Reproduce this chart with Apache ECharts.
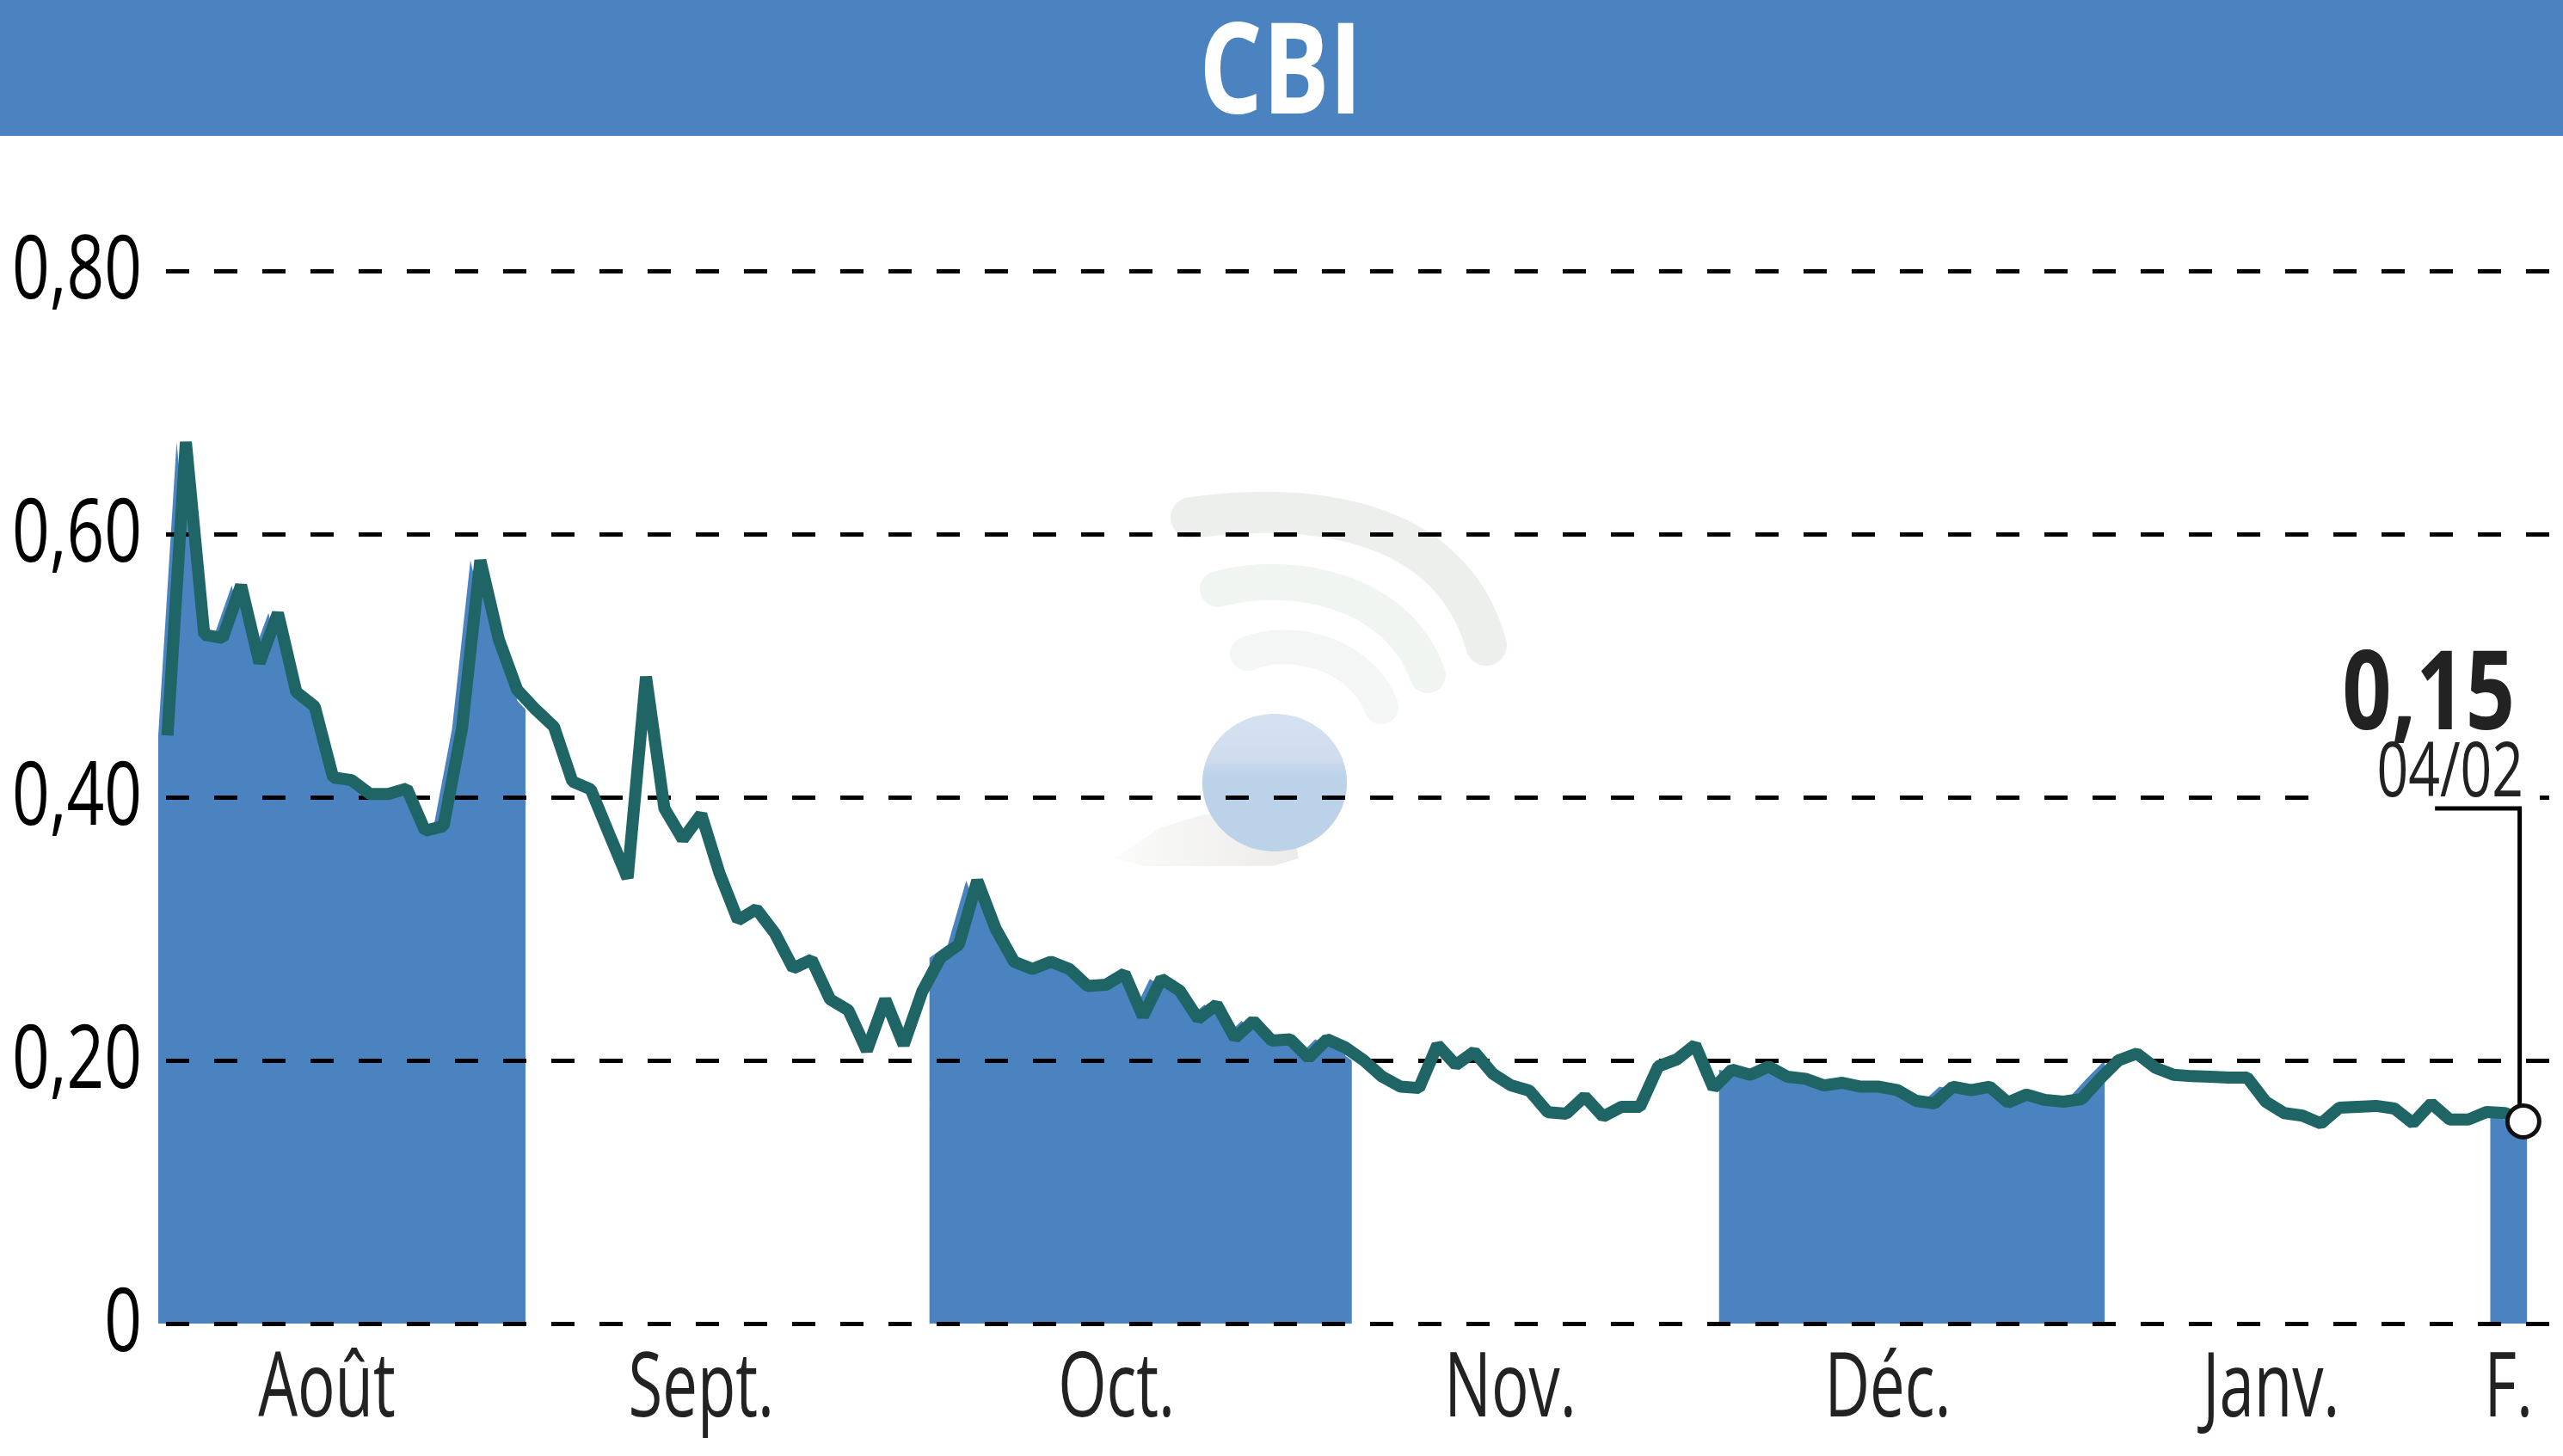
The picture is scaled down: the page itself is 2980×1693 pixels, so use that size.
<!DOCTYPE html>
<html><head><meta charset="utf-8">
<style>html,body{margin:0;padding:0;background:#fff}#c{width:2980px;height:1693px}</style>
<script src="https://cdn.jsdelivr.net/npm/echarts@6/dist/echarts.min.js"></script>
</head><body><div id="c"></div>
<script>
const title = 'CBI';
const prices = [
0.447,0.670,0.5235,0.521,0.561,0.502,0.540,0.480,0.469,0.415,
0.413,0.4025,0.4025,0.4066,0.3745,0.378,0.452,0.580,0.520,0.4817,
0.4667,0.4536,0.412,0.406,0.372,0.3386,0.4915,0.3915,0.368,0.387,
0.342,0.3065,0.315,0.2967,0.270,0.2765,0.2464,0.238,0.2075,0.2464,
0.2118,0.252,0.278,0.288,0.3366,0.300,0.275,0.2695,0.275,0.2695,
0.2565,0.2575,0.266,0.2335,0.262,0.253,0.2315,0.2425,0.217,0.230,
0.215,0.216,0.202,0.216,0.2098,0.200,0.1876,0.180,0.179,0.2118,
0.1966,0.2065,0.190,0.181,0.177,0.1606,0.1595,0.1725,0.1573,0.1647,
0.1647,0.1955,0.2007,0.2118,0.179,0.193,0.189,0.1954,0.1876,0.186,
0.181,0.183,0.180,0.180,0.1774,0.1693,0.1673,0.180,0.1774,0.180,
0.168,0.174,0.170,0.1686,0.1706,0.186,0.200,0.2052,0.1945,0.189,
0.188,0.1876,0.187,0.187,0.1686,0.160,0.158,0.152,0.164,0.1647,
0.1654,0.1634,0.1523,0.1673,0.155,0.155,0.1608,0.160,0.1536];
const shadedMonths = [[0,20],[42,65],[85,106],[127,129]];
const monthLabels = ['Août','Sept.','Oct.','Nov.','Déc.','Janv.','F.'];
const monthLabelPos = [9.16,29.5,52.06,73.46,93.97,114.8,127.7];
const yTickValues = [0,0.2,0.4,0.6,0.8];
const yTickLabels = ['0','0,20','0,40','0,60','0,80'];
const lastValueLabel = '0,15';
const lastDateLabel = '04/02';

const FONT = '"Open Sans","Noto Sans",sans-serif';
const BLUE = '#4a83c0', TEAL = '#1f6566';
const left = 184, top_ = 315, bottom = 154, W = 2980;
const lineStep = 21.4, areaStep = 21.35;
const lineMax = (W-left)/lineStep, areaMax = (W-left)/areaStep;

const linePts = prices.map((v,i)=>[i+0.5,v]);
const last = linePts[linePts.length-1];
// fill: a copy set slightly ahead of the line (reaches the month edges) and one exactly under it
const areaPts = [], underPts = [];
shadedMonths.forEach(([a,b])=>{
  for(let i=a;i<=b;i++) areaPts.push([i,prices[Math.min(i,prices.length-1)]]);
  areaPts.push([b+0.001,null]);
  for(let i=a;i<b && i<prices.length;i++) underPts.push([i+0.5,prices[i]]);
  underPts.push([b+0.001,null]);
});
const leaderPts = [[last[0]-4.8,0.3915],[last[0]-0.2,0.3915],[last[0]-0.2,last[1]]];

function textItem(x,y,text,font,fill,align,sx){
  return {type:'text',x,y,scaleX:sx,silent:true,
    style:{text,font,fill,textAlign:align,textVerticalAlign:'middle'}};
}
const fillSeries = (data,axis)=>({type:'line',xAxisIndex:axis,data,z:1,showSymbol:false,symbol:'none',connectNulls:false,
     lineStyle:{width:0},areaStyle:{color:BLUE,opacity:1}});

const chart = echarts.init(document.getElementById('c'),null,{renderer:'canvas',width:2980,height:1693});
chart.setOption({
  animation:false,
  backgroundColor:'#fff',
  grid:{left:left,right:0,top:top_,bottom:bottom,containLabel:false,outerBoundsMode:'none'},
  xAxis:[
    {type:'value',min:0,max:lineMax,splitLine:{show:false},axisLine:{show:false},axisTick:{show:false},axisLabel:{show:false}},
    {type:'value',min:0,max:areaMax,show:false,splitLine:{show:false}}
  ],
  yAxis:{type:'value',min:0,max:0.8,interval:0.2,z:2,
    axisLine:{show:false},axisTick:{show:false},axisLabel:{show:false},
    splitLine:{show:true,lineStyle:{color:'#000',width:5,type:[27,29],dashOffset:47}}},
  series:[
    fillSeries(areaPts,1),
    fillSeries(underPts,0),
    {type:'line',xAxisIndex:0,data:linePts,z:3,symbol:'none',lineStyle:{color:TEAL,width:14,join:'bevel'}},
    {type:'line',xAxisIndex:0,data:leaderPts,z:4,symbol:'none',lineStyle:{color:'#000',width:5,join:'miter'}},
    {type:'scatter',xAxisIndex:0,data:[last],z:5,symbol:'circle',symbolSize:37,
     itemStyle:{color:'#fff',borderColor:'#111',borderWidth:5,opacity:1}},
    {type:'custom',xAxisIndex:0,z:6,silent:true,clip:false,
     data:monthLabelPos.map((p,i)=>[p,i]),
     encode:{x:0},
     renderItem:(params,api)=>{
       const c=api.coord([api.value(0),0]);
       return textItem(c[0],c[1]+78,monthLabels[api.value(1)],'105px '+FONT,'#222','center',0.69);
     }},
    {type:'custom',xAxisIndex:0,z:6,silent:true,clip:false,
     data:yTickValues.map((v,i)=>[0,v,i]),
     encode:{x:0,y:1},
     renderItem:(params,api)=>{
       const c=api.coord([0,api.value(1)]);
       return textItem(c[0]-19,c[1]+3,yTickLabels[api.value(2)],'102px '+FONT,'#000','right',0.75);
     }}
  ],
  graphic:{elements:[
    {type:'rect',z:20,shape:{x:0,y:0,width:W,height:158},style:{fill:BLUE}},
    Object.assign(textItem(1489,90,title,'bold 148px '+FONT,'#fff','center',0.78),{z:21}),
    {type:'rect',z:20,shape:{x:2697,y:860,width:256,height:72},style:{fill:'#fff'}},
    Object.assign(textItem(2924,812,lastValueLabel,'bold 127px '+FONT,'#222','right',0.79),{z:21}),
    Object.assign(textItem(2934,901,lastDateLabel,'88px '+FONT,'#222','right',0.73),{z:21}),
    // faded watermark
    {type:'bezierCurve',z:0,shape:{x1:1385,y1:602,cpx1:1510,cpy1:585,cpx2:1685,cpy2:595,x2:1728,y2:750},style:{stroke:'#ecefec',lineWidth:48,fill:null,lineCap:'round'}},
    {type:'bezierCurve',z:0,shape:{x1:1416,y1:685,cpx1:1500,cpy1:662,cpx2:1625,cpy2:685,x2:1660,y2:785},style:{stroke:'#f1f5f1',lineWidth:42,fill:null,lineCap:'round'}},
    {type:'bezierCurve',z:0,shape:{x1:1450,y1:760,cpx1:1510,cpy1:738,cpx2:1585,cpy2:765,x2:1606,y2:822},style:{stroke:'#f3f6f4',lineWidth:40,fill:null,lineCap:'round'}},
    {type:'polygon',z:0,shape:{points:[[1296,998],[1350,962],[1400,947],[1500,947],[1510,998],[1480,1007],[1330,1007]]},
     style:{fill:new echarts.graphic.LinearGradient(0,0,1,0,[{offset:0,color:'#fbfbfa'},{offset:1,color:'#ecebe9'}])}},
    {type:'ellipse',z:1,shape:{cx:1482,cy:910,rx:84,ry:80},
     style:{fill:new echarts.graphic.LinearGradient(0,0,0,1,[{offset:0,color:'#d6e2f2'},{offset:0.33,color:'#cfdcee'},{offset:0.45,color:'#bcd2e9'},{offset:1,color:'#bcd2e9'}])}}
  ]}
});
</script></body></html>
